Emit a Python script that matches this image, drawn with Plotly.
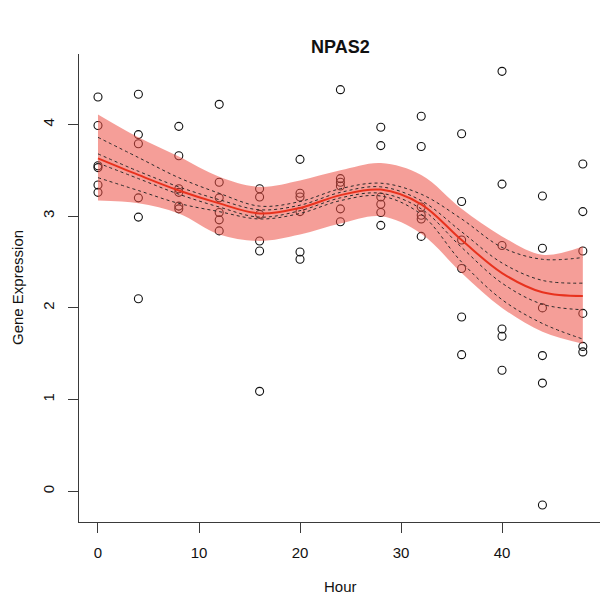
import plotly.graph_objects as go

# Sampling times (hours) and the six replicate expression values at each time
hours = [0, 4, 8, 12, 16, 20, 24, 28, 32, 36, 40, 44, 48]
expression = [
    [4.30, 3.99, 3.55, 3.53, 3.34, 3.26],
    [4.33, 3.89, 3.79, 3.20, 2.99, 2.10],
    [3.98, 3.66, 3.30, 3.26, 3.11, 3.08],
    [4.22, 3.37, 3.20, 3.04, 2.96, 2.84],
    [3.30, 3.21, 3.02, 2.73, 2.62, 1.09],
    [3.62, 3.25, 3.21, 3.05, 2.61, 2.53],
    [4.38, 3.41, 3.37, 3.33, 3.08, 2.94],
    [3.97, 3.77, 3.21, 3.13, 3.04, 2.90],
    [4.09, 3.76, 3.10, 3.01, 2.97, 2.78],
    [3.90, 3.16, 2.74, 2.43, 1.90, 1.49],
    [4.58, 3.35, 2.68, 1.77, 1.69, 1.32],
    [3.22, 2.65, 2.00, 1.48, 1.18, -0.15],
    [3.57, 3.05, 2.62, 1.94, 1.58, 1.52],
]

# Fitted smooth curve, its shaded band and the dashed interval curves
fit_hours = [0, 4, 8, 12, 16, 20, 24, 28, 32, 36, 40, 44, 48]
fit = [3.63, 3.45, 3.28, 3.14, 3.03, 3.09, 3.23, 3.29, 3.13, 2.74, 2.38, 2.17, 2.13]
band_upper = [4.11, 3.86, 3.65, 3.43, 3.32, 3.39, 3.50, 3.58, 3.45, 3.08, 2.78, 2.58, 2.67]
band_lower = [3.17, 3.14, 3.03, 2.80, 2.73, 2.80, 2.92, 3.00, 2.81, 2.38, 2.00, 1.74, 1.61]
outer_upper = [3.86, 3.64, 3.42, 3.25, 3.11, 3.16, 3.30, 3.36, 3.24, 2.97, 2.66, 2.53, 2.55]
outer_lower = [3.42, 3.28, 3.14, 3.05, 2.97, 3.03, 3.17, 3.22, 3.02, 2.50, 2.09, 1.83, 1.66]
inner_upper = [3.68, 3.49, 3.32, 3.18, 3.07, 3.12, 3.26, 3.32, 3.17, 2.83, 2.49, 2.30, 2.27]
inner_lower = [3.58, 3.41, 3.24, 3.10, 2.99, 3.06, 3.20, 3.25, 3.08, 2.66, 2.27, 2.04, 1.98]

x_ticks = [0, 10, 20, 30, 40]
y_ticks = [0, 1, 2, 3, 4]

FONT = "Liberation Sans, Arial, Helvetica, sans-serif"
AXIS_COLOR = "#3a3a3a"

point_x = [h for h, vals in zip(hours, expression) for _ in vals]
point_y = [v for vals in expression for v in vals]

fig = go.Figure()

fig.add_trace(go.Scatter(
    x=point_x, y=point_y, mode="markers",
    marker=dict(symbol="circle-open", size=8, color="#111111", line=dict(width=1.1)),
    showlegend=False, hoverinfo="x+y",
))

fig.add_trace(go.Scatter(
    x=fit_hours, y=band_lower, mode="lines",
    line=dict(width=0, shape="spline", color="rgba(0,0,0,0)"),
    showlegend=False, hoverinfo="skip",
))
fig.add_trace(go.Scatter(
    x=fit_hours, y=band_upper, mode="lines",
    line=dict(width=0, shape="spline", color="rgba(0,0,0,0)"),
    fill="tonexty", fillcolor="rgba(236,78,68,0.55)",
    showlegend=False, hoverinfo="skip",
))

for curve in (outer_upper, outer_lower, inner_upper, inner_lower):
    fig.add_trace(go.Scatter(
        x=fit_hours, y=curve, mode="lines",
        line=dict(width=1, color="#2a2a2a", dash="3px,3px", shape="spline"),
        showlegend=False, hoverinfo="skip",
    ))

fig.add_trace(go.Scatter(
    x=fit_hours, y=fit, mode="lines",
    line=dict(width=2, color="#E8321E", shape="spline"),
    showlegend=False,
))

fig.update_xaxes(
    range=[-1.88, 49.70], tickvals=x_ticks, ticktext=[str(t) for t in x_ticks],
    showline=True, linecolor=AXIS_COLOR, linewidth=1,
    ticks="outside", ticklen=10, tickcolor=AXIS_COLOR, tickwidth=1,
    showgrid=False, zeroline=False, ticklabelstandoff=7,
    tickfont=dict(family=FONT, size=15, color="#111111"),
)
fig.update_yaxes(
    range=[-0.335, 4.769], tickvals=y_ticks, ticktext=[str(t) for t in y_ticks],
    showline=True, linecolor=AXIS_COLOR, linewidth=1,
    ticks="outside", ticklen=10, tickcolor=AXIS_COLOR, tickwidth=1,
    showgrid=False, zeroline=False, tickangle=-90, ticklabelstandoff=8,
    tickfont=dict(family=FONT, size=15, color="#111111"),
)

fig.update_layout(
    width=600, height=600, autosize=False,
    margin=dict(l=79, r=0, t=54, b=78),
    plot_bgcolor="white", paper_bgcolor="white",
    font=dict(family=FONT, size=15, color="#111111"),
    annotations=[
        dict(text="<b>NPAS2</b>", xref="paper", yref="paper",
             x=(340 - 79) / 521, y=(522 - 47) / 468, xanchor="center", yanchor="middle",
             showarrow=False, font=dict(family=FONT, size=18, color="#111111")),
        dict(text="Hour", xref="paper", yref="paper",
             x=(340 - 79) / 521, y=(522 - 586) / 468, xanchor="center", yanchor="middle",
             showarrow=False, font=dict(family=FONT, size=15, color="#111111")),
        dict(text="Gene Expression", xref="paper", yref="paper", textangle=-90,
             x=(17 - 79) / 521, y=(522 - 288) / 468, xanchor="center", yanchor="middle",
             showarrow=False, font=dict(family=FONT, size=15, color="#111111")),
    ],
)

fig.write_html("out.html")
